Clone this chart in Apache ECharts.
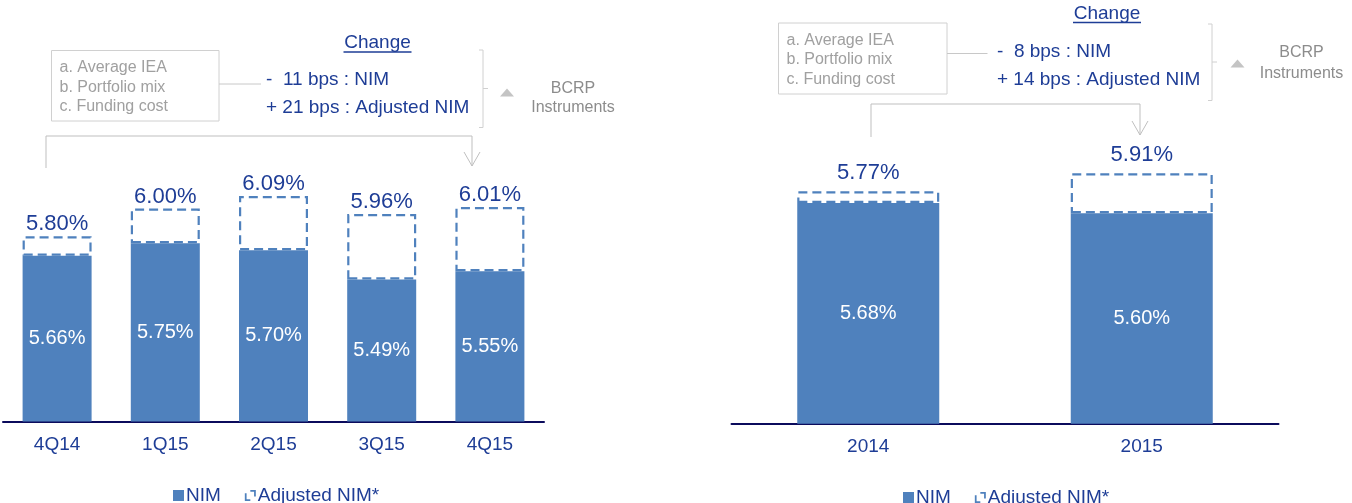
<!DOCTYPE html>
<html>
<head>
<meta charset="utf-8">
<script src="https://cdn.jsdelivr.net/npm/echarts@6/dist/echarts.min.js"></script>
<style>
  html, body { margin: 0; padding: 0; background: #fff; }
  #main { width: 1352px; height: 503px; }
</style>
</head>
<body>
<div id="main"></div>
<script>
// quarterly chart (left)
var quarters = ['4Q14', '1Q15', '2Q15', '3Q15', '4Q15'];
var nimQuarter = [5.66, 5.75, 5.70, 5.49, 5.55];
var adjNimQuarter = [5.80, 6.00, 6.09, 5.96, 6.01];

// yearly chart (right)
var years = ['2014', '2015'];
var nimYear = [5.68, 5.60];
var adjNimYear = [5.77, 5.91];

// annotation texts
var drivers = ['a. Average IEA', 'b. Portfolio mix', 'c. Funding cost'];
var changeQuarter = ['-  11 bps : NIM', '+ 21 bps : Adjusted NIM'];
var changeYear = ['-  8 bps : NIM', '+ 14 bps : Adjusted NIM'];
var bcrpText = ['BCRP', 'Instruments'];

var FONT = 'Liberation Sans, Arial, sans-serif';
var BAR = '#4F81BD';
var BLUE = '#1E3D96';
var GREY_TXT = '#A0A0A0';
var GREY_LINE = '#C8C8C8';

var myChart = echarts.init(document.getElementById('main'));

function pct(v) { return v.toFixed(2) + '%'; }

function diff(adj, nim) {
    return adj.map(function (v, i) { return +(v - nim[i]).toFixed(2); });
}

function barSeries(idx, nim, adj, width, labelDist) {
    return [{
        name: 'NIM',
        type: 'bar',
        xAxisIndex: idx,
        yAxisIndex: idx,
        stack: 's' + idx,
        barWidth: width,
        data: nim,
        itemStyle: { color: BAR },
        label: {
            show: true,
            position: 'inside',
            color: '#fff',
            fontSize: 20,
            fontFamily: FONT,
            formatter: function (p) { return pct(p.value); }
        }
    }, {
        name: 'Adjusted NIM*',
        type: 'bar',
        xAxisIndex: idx,
        yAxisIndex: idx,
        stack: 's' + idx,
        barWidth: width,
        data: diff(adj, nim),
        itemStyle: {
            color: 'rgba(0,0,0,0)',
            borderColor: BAR,
            borderWidth: 2.2,
            borderType: [9, 5]
        },
        label: {
            show: true,
            position: 'top',
            distance: labelDist,
            color: BLUE,
            fontSize: 22,
            fontFamily: FONT,
            formatter: function (p) { return pct(adj[p.dataIndex]); }
        }
    }];
}

function txt(x, y, s, size, color, align) {
    return {
        type: 'text',
        style: {
            text: s, x: x, y: y, fill: color,
            fontSize: size, fontFamily: FONT,
            align: align || 'left', verticalAlign: 'middle'
        }
    };
}

function ln(points, color, w) {
    return {
        type: 'polyline',
        shape: { points: points },
        style: { stroke: color || GREY_LINE, lineWidth: w || 1, fill: null }
    };
}

// builds the "Change" annotation block above one chart
function annotation(a) {
    var g = [];
    g.push(txt(a.changeX, a.changeY, 'Change', 19, BLUE, 'center'));
    g.push(ln([[a.changeX - 34, a.changeY + 9], [a.changeX + 34, a.changeY + 9]], BLUE, 1.3));
    g.push({
        type: 'rect',
        shape: { x: a.boxX, y: a.boxY, width: a.boxW, height: a.boxH },
        style: { fill: null, stroke: '#D0D0D0', lineWidth: 1 }
    });
    drivers.forEach(function (d, i) {
        g.push(txt(a.boxX + 8, a.boxY + 17.5 + i * 19.3, d, 16, GREY_TXT));
    });
    g.push(ln([[a.boxX + a.boxW, a.connY], [a.connX2, a.connY]]));
    a.change.forEach(function (c, i) {
        g.push(txt(a.chgX, a.chgY[i], c, 19, BLUE));
    });
    var bx = a.brX;
    g.push(ln([[bx - 4, a.brY1], [bx, a.brY1], [bx, a.brY2], [bx - 4, a.brY2]], '#D0D0D0'));
    g.push(ln([[bx, a.brMid], [bx + 5, a.brMid]], '#D0D0D0'));
    g.push({
        type: 'polygon',
        shape: { points: [[a.triX - 7, a.triY + 8], [a.triX, a.triY], [a.triX + 7, a.triY + 8]] },
        style: { fill: '#C4C4C4' }
    });
    g.push(txt(a.bcrpX, a.bcrpY[0], bcrpText[0], 16, '#8C8C8C', 'center'));
    g.push(txt(a.bcrpX, a.bcrpY[1], bcrpText[1], 16, '#8C8C8C', 'center'));
    g.push(ln([[a.lowX1, a.lowY2], [a.lowX1, a.lowY], [a.lowX2, a.lowY], [a.lowX2, a.arrowY]], '#BFBFBF'));
    g.push(ln([[a.lowX2 - 8, a.arrowY - 14], [a.lowX2, a.arrowY], [a.lowX2 + 8, a.arrowY - 14]], '#BFBFBF'));
    return g;
}

var graphics = annotation({
    changeX: 377.5, changeY: 43,
    boxX: 51.5, boxY: 50.5, boxW: 167.5, boxH: 70.5,
    connY: 84, connX2: 261,
    chgX: 266, chgY: [80, 108], change: changeQuarter,
    brX: 483, brY1: 50, brY2: 127.5, brMid: 88.5,
    triX: 507, triY: 88.5,
    bcrpX: 573, bcrpY: [89, 108],
    lowX1: 46, lowX2: 472, lowY: 136, lowY2: 168, arrowY: 166
}).concat(annotation({
    changeX: 1107, changeY: 13.5,
    boxX: 778.5, boxY: 23, boxW: 168.5, boxH: 71,
    connY: 53.5, connX2: 987.5,
    chgX: 997, chgY: [51.5, 80], change: changeYear,
    brX: 1212, brY1: 24, brY2: 100.5, brMid: 62,
    triX: 1237.5, triY: 59.5,
    bcrpX: 1301.5, bcrpY: [52.5, 74],
    lowX1: 871, lowX2: 1140, lowY: 104, lowY2: 137, arrowY: 135
}));

function xAxis(idx, cats) {
    return {
        type: 'category',
        gridIndex: idx,
        data: cats,
        axisLine: { lineStyle: { color: '#0B0B5C', width: 2 } },
        axisTick: { show: false },
        axisLabel: { color: BLUE, fontSize: 19, fontFamily: FONT, margin: 14 }
    };
}

function legend(left, top) {
    return {
        left: left,
        top: top,
        itemWidth: 11,
        itemHeight: 11,
        itemGap: 24,
        textStyle: { color: BLUE, fontSize: 19, fontFamily: FONT, padding: [0, 0, 0, -3] },
        selectedMode: false,
        data: [
            { name: 'NIM', icon: 'rect', itemStyle: { color: BAR, borderWidth: 0 } },
            {
                name: 'Adjusted NIM*',
                icon: 'path://M0,3H1.6V8.4H5V10H0Z M5,0H10V6H8.4V1.6H5Z',
                itemStyle: { color: BAR, borderWidth: 0 }
            }
        ]
    };
}

var option = {
    animation: false,
    textStyle: { fontFamily: FONT },
    grid: [
        { left: 3, width: 541, top: 150, bottom: 81.5 },
        { left: 731.5, width: 547, top: 150, bottom: 79.3 }
    ],
    xAxis: [xAxis(0, quarters), xAxis(1, years)],
    yAxis: [
        { type: 'value', gridIndex: 0, min: 4.47, max: 6.42, show: false },
        { type: 'value', gridIndex: 1, min: 3.97, max: 6.09, show: false }
    ],
    legend: [legend(168, 481), legend(898, 483)],
    graphic: graphics,
    series: barSeries(0, nimQuarter, adjNimQuarter, 69, 1)
        .concat(barSeries(1, nimYear, adjNimYear, 142, 7))
};

myChart.setOption(option);
</script>
</body>
</html>
